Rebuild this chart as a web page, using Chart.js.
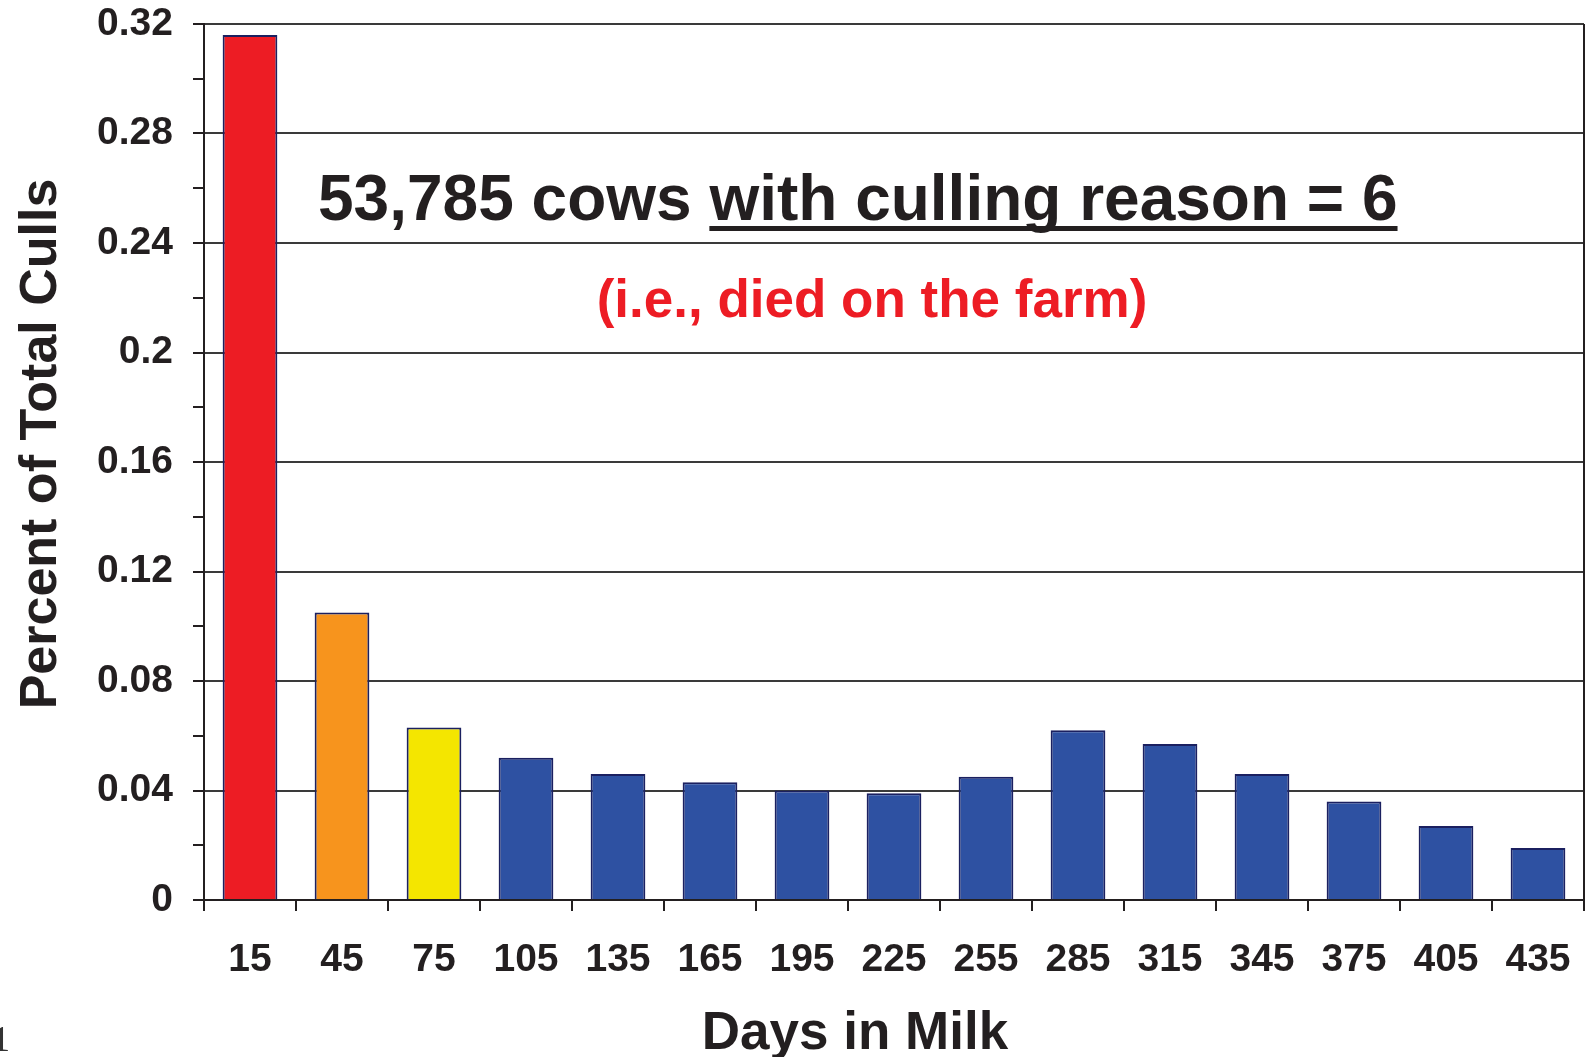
<!DOCTYPE html>
<html>
<head>
<meta charset="utf-8">
<title>Percent of Total Culls by Days in Milk</title>
<script src="https://cdn.jsdelivr.net/npm/chart.js@4/dist/chart.umd.min.js"></script>
<style>
  html, body { margin: 0; padding: 0; background: #fff; }
  #wrap { width: 1593px; height: 1057px; position: relative; }
</style>
</head>
<body>
<div id="wrap"><canvas id="graficoCulls"></canvas></div>
<script>
// Days in milk (category labels)
const days = ['15', '45', '75', '105', '135', '165', '195', '225', '255', '285', '315', '345', '375', '405', '435'];
// Share of total culls per group
const culls = [0.316, 0.105, 0.063, 0.052, 0.046, 0.043, 0.040, 0.039, 0.045, 0.062, 0.057, 0.046, 0.036, 0.027, 0.019];
// Bar fill colours
const barColors = ['#ED1C24', '#F7941D', '#F4E600', '#2E51A2', '#2E51A2', '#2E51A2', '#2E51A2', '#2E51A2',
                   '#2E51A2', '#2E51A2', '#2E51A2', '#2E51A2', '#2E51A2', '#2E51A2', '#2E51A2'];
const yTicks = [0, 0.04, 0.08, 0.12, 0.16, 0.2, 0.24, 0.28, 0.32];

const ink = '#231f20';
const fontFam = "'Liberation Sans', Arial, sans-serif";

const isMajor = v => yTicks.some(t => Math.abs(t - v) < 1e-6);

// Draws axis titles, annotation text and the right border
const extraText = {
  id: 'extraText',
  afterDraw(chart) {
    const ctx = chart.ctx;
    const area = chart.chartArea;
    ctx.save();

    ctx.strokeStyle = ink;
    ctx.lineWidth = 2;
    ctx.beginPath();
    ctx.moveTo(area.right, area.top);
    ctx.lineTo(area.right, area.bottom + 11);
    ctx.stroke();

    ctx.fillStyle = ink;
    ctx.textBaseline = 'alphabetic';

    // y title
    ctx.save();
    ctx.translate(56, 444);
    ctx.rotate(-Math.PI / 2);
    ctx.textAlign = 'center';
    ctx.font = 'bold 52px ' + fontFam;
    ctx.fillText('Percent of Total Culls', 0, 0);
    ctx.restore();

    // x title
    ctx.textAlign = 'center';
    ctx.font = 'bold 53px ' + fontFam;
    ctx.fillText('Days in Milk', 855, 1049);

    // annotation line 1, second part underlined
    ctx.textAlign = 'left';
    ctx.font = 'bold 64px ' + fontFam;
    const part1 = '53,785 cows ';
    const part2 = 'with culling reason = 6';
    const x0 = 318;
    const w1 = ctx.measureText(part1).width;
    const w2 = ctx.measureText(part2).width;
    ctx.fillText(part1, x0, 220);
    ctx.fillText(part2, x0 + w1, 220);
    ctx.fillRect(x0 + w1, 226, w2, 5);

    // annotation line 2
    ctx.fillStyle = '#ED1C24';
    ctx.textAlign = 'center';
    ctx.font = 'bold 53px ' + fontFam;
    ctx.fillText('(i.e., died on the farm)', 872, 317);

    // page number fragment
    ctx.fillStyle = '#333';
    ctx.font = "36px 'Liberation Serif', serif";
    ctx.fillText('1', 1, 1051);

    ctx.restore();
  }
};

const ctx = document.getElementById('graficoCulls').getContext('2d');
new Chart(ctx, {
  type: 'bar',
  data: {
    labels: days,
    datasets: [{
      data: culls,
      backgroundColor: barColors,
      borderColor: '#1b2060',
      borderWidth: 2,
      barPercentage: 0.595,
      categoryPercentage: 1
    }]
  },
  options: {
    responsive: true,
    maintainAspectRatio: false,
    animation: false,
    layout: { padding: { top: 24, right: 9, left: 0, bottom: 0 } },
    plugins: { legend: { display: false }, tooltip: { enabled: false } },
    scales: {
      x: {
        offset: true,
        grid: { offset: true, drawOnChartArea: false, tickLength: 11, tickColor: ink, lineWidth: 2 },
        border: { color: ink, width: 2 },
        ticks: { color: ink, font: { family: fontFam, size: 39, weight: 'bold' }, padding: 26, maxRotation: 0, autoSkip: false },
        afterFit(scale) {
          scale.height = 157;
          scale.paddingLeft = 0;
          scale.paddingRight = 0;
        }
      },
      y: {
        min: 0,
        max: 0.32,
        grid: {
          color: c => isMajor(c.tick.value) ? '#3a3a3a' : 'rgba(0,0,0,0)',
          tickColor: ink,
          lineWidth: 2,
          tickLength: 11
        },
        border: { color: ink, width: 2 },
        ticks: {
          stepSize: 0.02,
          autoSkip: false,
          color: ink,
          padding: 20,
          font: { family: fontFam, size: 39, weight: 'bold' },
          callback: v => isMajor(v) ? String(Math.round(v * 100) / 100) : ''
        },
        afterFit(scale) {
          scale.width = 204;
          scale.paddingTop = 0;
          scale.paddingBottom = 0;
        }
      }
    }
  },
  plugins: [extraText]
});
</script>
</body>
</html>
